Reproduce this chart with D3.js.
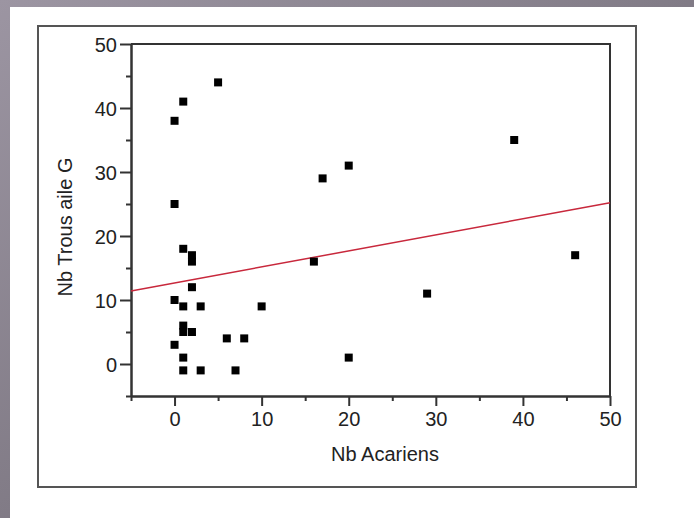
<!DOCTYPE html>
<html>
<head>
<meta charset="utf-8">
<script src="https://cdn.jsdelivr.net/npm/d3@7"></script>
<style>
  body { margin: 0; padding: 0; overflow: hidden; }
  svg { display: block; }
</style>
</head>
<body>
<div id="chart"></div>
<script>
// Nb Acariens (x) vs Nb Trous aile G (y)
var acariens = [0, 1, 5, 0, 17, 20, 39, 1, 2, 2, 2, 0, 1, 3, 10, 1, 1, 2, 0, 6, 8, 1, 1, 3, 7, 16, 29, 20, 46];
var trous    = [38, 41, 44, 25, 29, 31, 35, 18, 17, 16, 12, 10, 9, 9, 9, 6, 5, 5, 3, 4, 4, 1, -1, -1, -1, 16, 11, 1, 17];

// fitted line, read at both ends of the x axis
var fitX = [-5, 50];
var fitY = [11.4, 25.2];

var majorTicks = [0, 10, 20, 30, 40, 50];
var minorTicks = [-5, 5, 15, 25, 35, 45];

var W = 694, H = 518;

var svg = d3.select("#chart")
    .append("svg")
    .attr("width", W)
    .attr("height", H);

// slide background
var grad = svg.append("defs").append("linearGradient")
    .attr("id", "bg")
    .attr("x1", "0%").attr("y1", "0%")
    .attr("x2", "100%").attr("y2", "100%");
grad.append("stop").attr("offset", "0%").attr("stop-color", "#9c95a2");
grad.append("stop").attr("offset", "100%").attr("stop-color", "#66616a");

svg.append("rect").attr("width", W).attr("height", H).attr("fill", "url(#bg)");
svg.append("rect").attr("x", 10).attr("y", 7).attr("width", W - 10).attr("height", H - 7).attr("fill", "#fff");

// outer frame
svg.append("rect")
    .attr("x", 38).attr("y", 26)
    .attr("width", 598).attr("height", 461)
    .attr("fill", "none")
    .attr("stroke", "#555")
    .attr("stroke-width", 2);

var x = d3.scaleLinear().domain([-5, 50]).range([131, 610]);
var y = d3.scaleLinear().domain([-5, 50]).range([396, 44]);

var font = "'Liberation Sans', Arial, sans-serif";

// minor ticks
svg.append("g")
    .attr("transform", "translate(0,396)")
    .call(d3.axisBottom(x).tickValues(minorTicks).tickSize(5).tickSizeOuter(0).tickFormat(""));
svg.append("g")
    .attr("transform", "translate(131,0)")
    .call(d3.axisLeft(y).tickValues(minorTicks).tickSize(5).tickSizeOuter(0).tickFormat(""));

// major ticks + labels
var xAxis = svg.append("g")
    .attr("transform", "translate(0,396)")
    .call(d3.axisBottom(x).tickValues(majorTicks).tickSize(10).tickSizeOuter(0).tickPadding(6));
var yAxis = svg.append("g")
    .attr("transform", "translate(131,0)")
    .call(d3.axisLeft(y).tickValues(majorTicks).tickSize(11).tickSizeOuter(0).tickPadding(3));

svg.selectAll(".tick text")
    .attr("font-family", font)
    .attr("font-size", 20)
    .attr("fill", "#222");
yAxis.selectAll(".tick text").attr("dy", "0.36em");
svg.selectAll(".domain, .tick line").attr("stroke", "#333").attr("stroke-width", 2);

// top and right sides of the plot frame
svg.append("path")
    .attr("d", "M" + x(-5) + "," + y(50) + "H" + x(50) + "V" + y(-5))
    .attr("fill", "none")
    .attr("stroke", "#333")
    .attr("stroke-width", 2);

// fitted line
svg.append("line")
    .attr("x1", x(fitX[0])).attr("y1", y(fitY[0]))
    .attr("x2", x(fitX[1])).attr("y2", y(fitY[1]))
    .attr("stroke", "#c8283c")
    .attr("stroke-width", 1.5);

// points
var s = 8;
svg.append("g")
    .selectAll("rect")
    .data(acariens)
    .enter().append("rect")
    .attr("x", function (d) { return x(d) - s / 2; })
    .attr("y", function (d, i) { return y(trous[i]) - s / 2; })
    .attr("width", s)
    .attr("height", s)
    .attr("fill", "#000");

// axis titles
svg.append("text")
    .attr("x", 385)
    .attr("y", 461)
    .attr("text-anchor", "middle")
    .attr("font-family", font)
    .attr("font-size", 20)
    .attr("fill", "#222")
    .text("Nb Acariens");

svg.append("text")
    .attr("transform", "translate(72,227) rotate(-90)")
    .attr("text-anchor", "middle")
    .attr("font-family", font)
    .attr("font-size", 20)
    .attr("fill", "#222")
    .text("Nb Trous aile G");
</script>
</body>
</html>
